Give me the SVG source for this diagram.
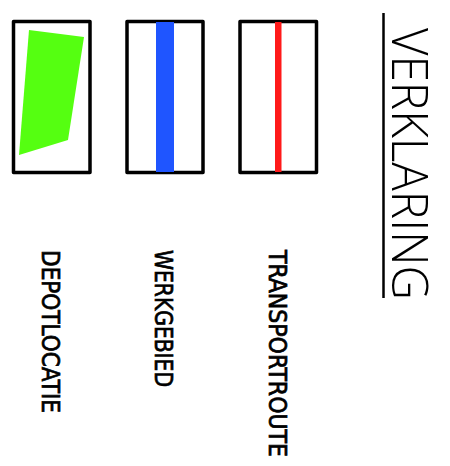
<svg xmlns="http://www.w3.org/2000/svg" width="450" height="466" viewBox="0 0 450 466">
<style>
.box{fill:none;stroke:#000;stroke-width:3.5;stroke-linejoin:round}
.lbl{font-family:"DejaVu Sans Condensed","DejaVu Sans",sans-serif;font-size:24px;fill:#000;stroke:#000;stroke-width:0.7}
.title{font-family:"Open Sans","DejaVu Sans",sans-serif;font-weight:300;font-size:49px;fill:#000}
</style>
<rect width="450" height="466" fill="#fff"/>
<g id="depotlocatie">
<rect class="box" x="13.5" y="21.5" width="76.5" height="151"/>
<polygon points="29,30 84,37 68,140 19,155" fill="#55ff11"/>
<text class="lbl" transform="translate(41.5,250) rotate(90)" textLength="163" lengthAdjust="spacingAndGlyphs">DEPOTLOCATIE</text>
</g>
<g id="werkgebied">
<rect class="box" x="127" y="21.5" width="76" height="151"/>
<rect x="156" y="22" width="18" height="150" fill="#1f55ff"/>
<text class="lbl" transform="translate(155,250) rotate(90)" textLength="137" lengthAdjust="spacingAndGlyphs">WERKGEBIED</text>
</g>
<g id="transportroute">
<rect class="box" x="240" y="21.5" width="76.5" height="151"/>
<rect x="275" y="22" width="6.5" height="150" fill="#ff1a1a"/>
<text class="lbl" transform="translate(268.5,250) rotate(90)" textLength="207" lengthAdjust="spacingAndGlyphs">TRANSPORTROUTE</text>
</g>
<g id="verklaring">
<line x1="383.5" y1="13" x2="383.5" y2="298" stroke="#000" stroke-width="2.5"/>
<text class="title" transform="translate(392,28) rotate(90)" textLength="272" lengthAdjust="spacingAndGlyphs">VERKLARING</text>
</g>
<g id="connectors"/>
</svg>
